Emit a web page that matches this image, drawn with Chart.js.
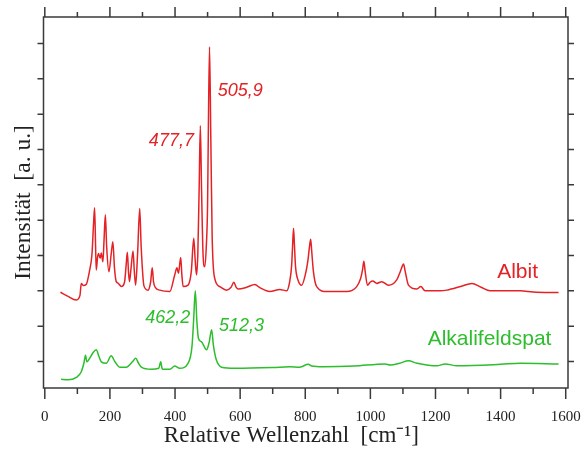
<!DOCTYPE html>
<html>
<head>
<meta charset="utf-8">
<script src="https://cdn.jsdelivr.net/npm/chart.js@4.4.0/dist/chart.umd.min.js"></script>
<style>
  html, body { margin: 0; padding: 0; background: #fff; }
  #wrap { width: 588px; height: 450px; }
</style>
</head>
<body>
<div id="wrap"><canvas id="spektrum"></canvas></div>
<script>
// Raman-Spektren, Werte (Intensität in willkürlichen Einheiten)
const albitWellenzahl = [48, 70, 97, 108, 112, 118, 127, 137, 145, 150, 153, 156, 158, 162, 165, 170, 173.5, 178.5, 182, 186, 190, 197, 204, 209, 214, 219.5, 225, 235, 245, 250, 253.5, 257, 260, 265, 271, 275, 279, 285, 291.5, 296, 304.6, 317, 325, 330, 334, 340, 353, 384, 399, 406, 410.5, 417.5, 421, 425, 440, 450, 457.5, 462, 466, 470, 474, 477.7, 481.5, 486, 491, 496, 500, 502, 505.9, 510, 514, 522, 537.5, 558, 572, 580.6, 588, 594, 620, 645, 660.6, 691, 722, 743, 752, 758, 761, 764, 767, 770, 778, 789, 800, 808, 813, 816.6, 820, 825, 835, 866, 927, 958, 970, 976, 980, 984, 991, 1000, 1007, 1020, 1035, 1055.5, 1081, 1092, 1098, 1102, 1107, 1117, 1143, 1155, 1168, 1214, 1235, 1280, 1312, 1340, 1368, 1460, 1500, 1578];
const albitIntensitaet = [271, 260, 249, 262, 296, 290, 293, 330, 380, 470, 510, 400, 334, 370, 381, 367, 382, 357, 420, 490, 400, 329, 380, 414, 340, 301, 297, 287, 300, 350, 384, 330, 301, 340, 388, 330, 291, 380, 508, 400, 289, 277, 300, 340, 300, 284, 277, 273, 320, 340, 325, 369, 320, 287, 291, 330, 424, 360, 320, 380, 560, 742, 560, 380, 343, 400, 520, 700, 966, 700, 430, 310, 287, 277, 285, 299, 285, 280, 285, 293, 284, 273, 279, 275, 300, 345, 400, 452, 400, 345, 305, 291, 320, 360, 400, 421, 385, 330, 287, 273, 273, 287, 310, 335, 359, 330, 291, 300, 303, 296, 301, 291, 306, 330, 345, 351, 330, 291, 280, 287, 275, 275, 277, 288, 296, 285, 275, 275, 272, 270];

const feldspatWellenzahl = [50, 71, 97, 112, 120, 125, 129, 137.5, 148, 158, 166, 173.5, 189, 204, 215, 230, 250, 270, 279, 288, 296.6, 327, 350, 356, 360, 363, 384, 399, 414, 440, 452, 457, 462.2, 467, 472, 481, 497, 505, 512.3, 518, 527, 543, 584, 700, 753, 783, 809, 820, 855, 950, 1045, 1061, 1090, 1117, 1143, 1194, 1204, 1230, 1266, 1400, 1460, 1578];
const feldspatIntensitaet = [25, 23, 30, 46, 70, 93, 74, 84, 100, 108, 90, 74, 70, 91, 75, 59, 59, 75, 84, 70, 59, 53, 56, 74, 56, 53, 53, 62, 56, 70, 117, 190, 275, 190, 140, 131, 108, 130, 165, 120, 79, 59, 56, 58, 60, 59, 67, 62, 60, 62, 68, 65, 70, 77, 70, 63, 63, 68, 63, 67, 70, 68];

const xTicks = [0, 100, 200, 300, 400, 500, 600, 700, 800, 900, 1000, 1100, 1200, 1300, 1400, 1500, 1600];
const yTicks = [75, 175, 275, 375, 475, 575, 675, 775, 875, 975];

const rot = 'rgb(228, 34, 38)';
const gruen = 'rgb(44, 190, 44)';

// Beschriftungen der Peaks und Kurven (in Datenkoordinaten)
const beschriftungen = [
    { text: '505,9', x: 531, y: 841, farbe: rot, font: 'italic 18px "Liberation Sans"', align: 'left' },
    { text: '477,7', x: 458, y: 698, farbe: rot, font: 'italic 18px "Liberation Sans"', align: 'right' },
    { text: '462,2', x: 447, y: 198, farbe: gruen, font: 'italic 18px "Liberation Sans"', align: 'right' },
    { text: '512,3', x: 535, y: 175, farbe: gruen, font: 'italic 18px "Liberation Sans"', align: 'left' },
    { text: 'Albit', x: 1515, y: 327, farbe: rot, font: '21px "Liberation Sans"', align: 'right' },
    { text: 'Alkalifeldspat', x: 1556, y: 138, farbe: gruen, font: '21px "Liberation Sans"', align: 'right' }
];

function punkte (xs, ys) {
    return xs.map((x, i) => ({ x: x, y: ys[i] }));
}

// Rahmen mit Teilstrichen wie im Original (außen, Haupt- und Nebenstriche)
const rahmenPlugin = {
    id: 'rahmen',
    afterDraw (chart) {
        const { ctx, chartArea: a, scales } = chart;
        ctx.save();
        ctx.strokeStyle = '#3a3a3a';
        ctx.lineWidth = 1.5;
        ctx.strokeRect(a.left, a.top, a.right - a.left, a.bottom - a.top);
        ctx.beginPath();
        for (const t of xTicks) {
            const px = scales.x.getPixelForValue(t);
            const gross = t % 200 === 0;
            ctx.moveTo(px, a.bottom);
            ctx.lineTo(px, a.bottom + (gross ? 11 : 6));
            ctx.moveTo(px, a.top);
            ctx.lineTo(px, a.top - (gross ? 10 : 5));
        }
        for (const t of yTicks) {
            const py = scales.y.getPixelForValue(t);
            ctx.moveTo(a.left, py);
            ctx.lineTo(a.left - 6, py);
            ctx.moveTo(a.right, py);
            ctx.lineTo(a.right + 6, py);
        }
        ctx.stroke();

        for (const b of beschriftungen) {
            ctx.font = b.font;
            ctx.fillStyle = b.farbe;
            ctx.textAlign = b.align;
            ctx.textBaseline = 'middle';
            ctx.fillText(b.text, scales.x.getPixelForValue(b.x), scales.y.getPixelForValue(b.y));
        }
        ctx.restore();
    }
};

const ctx = document.getElementById('spektrum');
const spektrumChart = new Chart(ctx, {
    type: 'line',
    data: {
        datasets: [
            {
                label: 'Albit',
                data: punkte(albitWellenzahl, albitIntensitaet),
                borderColor: rot,
                borderWidth: 1.5,
                pointRadius: 0,
                cubicInterpolationMode: 'monotone'
            },
            {
                label: 'Alkalifeldspat',
                data: punkte(feldspatWellenzahl, feldspatIntensitaet),
                borderColor: gruen,
                borderWidth: 1.5,
                pointRadius: 0,
                cubicInterpolationMode: 'monotone'
            }
        ]
    },
    options: {
        responsive: true,
        maintainAspectRatio: false,
        animation: false,
        layout: { padding: { left: 0, right: 20, top: 17, bottom: 2 } },
        plugins: {
            legend: { display: false },
            tooltip: { enabled: false }
        },
        scales: {
            x: {
                type: 'linear',
                min: -4,
                max: 1607,
                afterBuildTicks: (scale) => { scale.ticks = xTicks.map(v => ({ value: v })); },
                grid: { display: false, drawTicks: true, tickLength: 22 },
                border: { display: false },
                ticks: {
                    autoSkip: false,
                    maxRotation: 0,
                    padding: 0,
                    color: '#222',
                    font: { family: '"Liberation Serif"', size: 15, lineHeight: 1 },
                    callback: (v) => (v % 200 === 0 ? String(v) : '')
                },
                title: {
                    display: true,
                    // angehängte Leerzeichen verschieben den Titel etwas nach links wie im Original
                    text: 'Relative Wellenzahl  [cm⁻¹]\u00a0\u00a0\u00a0\u00a0\u00a0',
                    color: '#222',
                    font: { family: '"Liberation Serif"', size: 23, lineHeight: 1 },
                    padding: { top: -1, bottom: 1 }
                }
            },
            y: {
                type: 'linear',
                min: 0,
                max: 1050,
                afterBuildTicks: (scale) => { scale.ticks = yTicks.map(v => ({ value: v })); },
                grid: { display: false, drawTicks: false },
                border: { display: false },
                ticks: { display: false },
                title: {
                    display: true,
                    text: 'Intensität  [a. u.]',
                    color: '#222',
                    font: { family: '"Liberation Serif"', size: 23.5, lineHeight: 1 },
                    padding: { top: 12, bottom: 8 }
                }
            }
        }
    },
    plugins: [rahmenPlugin]
});
</script>
</body>
</html>
